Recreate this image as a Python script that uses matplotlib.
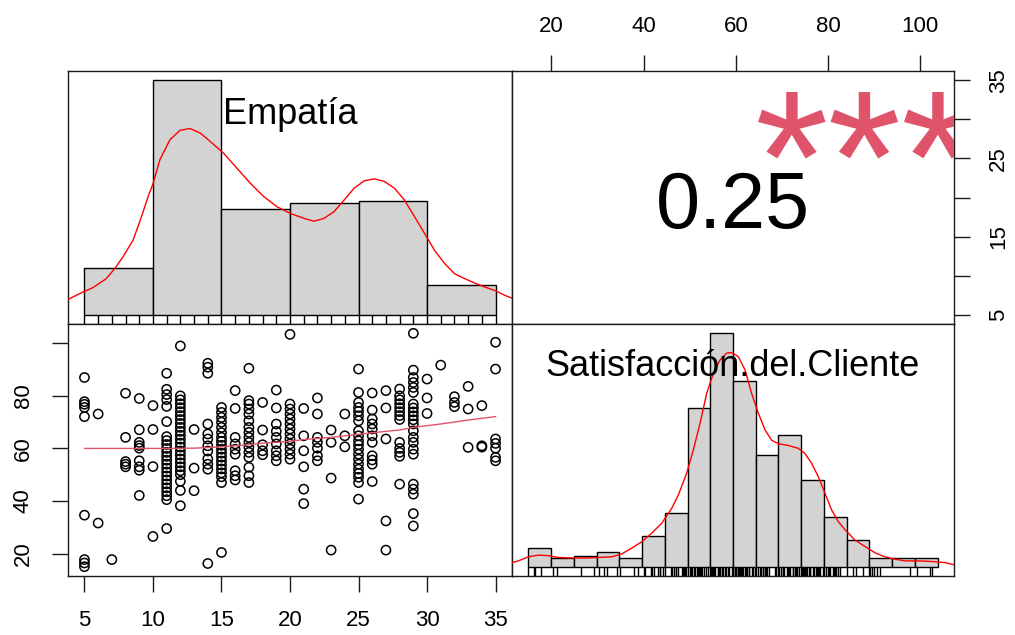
import matplotlib.pyplot as plt
import numpy as np

plt.rcParams['font.family'] = ['Liberation Sans', 'DejaVu Sans']

# Empatía score (x) and Satisfacción del Cliente readings at each score
emp_scores = list(range(5, 36))
sat_groups = [
    [87.0, 77.8, 76.8, 75.6, 72.1, 34.6, 17.7, 16.4, 15.0],                      # 5
    [73.1, 31.6],                                                                # 6
    [17.7],                                                                      # 7
    [81.0, 64.2, 55.0, 54.0, 53.0],                                              # 8
    [79.0, 67.1, 62.3, 61.1, 60.1, 55.3, 53.0, 51.7, 42.1],                      # 9
    [76.3, 67.2, 53.1, 26.5],                                                    # 10
    [88.6, 82.5, 80.5, 78.6, 76.0, 70.2, 64.5, 63.0, 61.5, 60.0, 58.5, 57.0,
     55.5, 54.0, 52.5, 51.0, 49.5, 48.0, 46.5, 45.0, 43.5, 42.0, 40.5, 29.5],    # 11
    [99.0, 80.0, 78.5, 77.0, 75.5, 74.0, 72.5, 71.0, 69.5, 68.0, 66.5, 65.0,
     63.5, 62.0, 60.5, 59.0, 57.5, 56.0, 54.5, 53.0, 51.5, 50.0, 47.5, 44.0,
     38.2],                                                                      # 12
    [67.2, 52.5, 43.9],                                                          # 13
    [92.4, 90.9, 88.6, 69.3, 65.5, 63.6, 61.0, 59.0, 56.0, 54.0, 52.1, 16.2],    # 14
    [75.6, 73.7, 71.8, 70.0, 68.0, 66.0, 64.2, 62.7, 61.2, 59.7, 58.2, 56.7,
     55.2, 53.7, 52.2, 50.7, 49.2, 47.0, 20.4],                                  # 15
    [82.0, 75.2, 64.2, 61.7, 59.7, 57.8, 51.5, 49.6, 48.0],                      # 16
    [90.5, 78.2, 76.9, 75.0, 73.1, 70.5, 68.0, 66.1, 64.2, 62.3, 60.4, 58.5,
     56.6, 52.8, 49.6, 47.0],                                                    # 17
    [77.5, 67.0, 61.4, 59.1, 57.6],                                              # 18
    [82.2, 75.4, 69.3, 66.5, 64.2, 61.7, 59.1, 57.2, 55.3],                      # 19
    [103.4, 76.9, 75.0, 73.1, 71.2, 69.3, 67.4, 65.5, 63.6, 61.7, 59.7, 57.8,
     55.9],                                                                      # 20
    [75.2, 64.8, 59.1, 53.0, 44.5, 39.0],                                        # 21
    [79.2, 73.1, 64.2, 62.3, 60.1, 57.2, 55.3],                                  # 22
    [67.0, 62.3, 48.7, 21.3],                                                    # 23
    [73.1, 64.8, 60.6],                                                          # 24
    [90.2, 81.3, 77.5, 75.6, 74.1, 72.4, 70.5, 66.7, 64.8, 62.9, 61.4, 59.7,
     57.8, 55.9, 54.0, 52.1, 50.5, 49.0, 47.0, 40.7],                            # 25
    [81.1, 74.6, 71.2, 69.3, 67.4, 64.8, 62.3, 57.2, 55.6, 54.0, 47.4],          # 26
    [82.0, 75.4, 63.6, 32.4, 21.3],                                              # 27
    [82.6, 80.0, 78.5, 77.0, 75.5, 74.0, 72.5, 71.0, 62.3, 60.0, 58.5, 57.0,
     46.4],                                                                      # 28
    [103.8, 89.8, 87.0, 85.1, 83.2, 81.3, 76.9, 75.4, 73.9, 72.4, 70.9, 69.3,
     66.7, 64.2, 62.3, 59.7, 57.8, 46.4, 44.5, 42.6, 35.2, 30.5],                # 29
    [86.4, 79.2, 73.3],                                                          # 30
    [91.7],                                                                      # 31
    [79.7, 77.5, 75.9],                                                          # 32
    [83.6, 75.0, 60.4],                                                          # 33
    [76.3, 61.0, 60.5],                                                          # 34
    [100.4, 90.2, 63.6, 61.9, 60.1, 56.6, 55.3],                                 # 35
]

# lowess smoother through the scatter
smooth_x = [5, 11, 13, 15, 17, 18, 19, 20, 21, 23, 25, 27, 28, 29, 31, 33, 35]
smooth_y = [60.0, 60.0, 60.1, 60.6, 61.4, 62.0, 62.3, 62.7, 63.4, 64.2, 65.4,
            66.5, 67.0, 68.0, 69.3, 70.8, 72.1]

# histogram bins (counts) for each variable
n_obs = 559
emp_breaks = [5, 10, 15, 20, 25, 30, 35]
emp_counts = [41, 204, 92, 97, 99, 26]
sat_breaks = [15, 20, 25, 30, 35, 40, 45, 50, 55, 60, 65, 70, 75, 80, 85,
              90, 95, 100, 105]
sat_counts = [9, 4, 5, 7, 4, 15, 26, 77, 113, 90, 54, 64, 42, 24, 13, 4, 4, 4]

# kernel density estimates
emp_dens_x = [3.75, 4.63, 5.61, 6.59, 7.20, 7.81, 8.55, 9.16, 9.65, 10.01,
              10.50, 11.24, 11.97, 12.70, 13.44, 14.17, 15.15, 16.13, 17.11,
              18.08, 19.06, 20.04, 21.02, 21.75, 22.48, 23.22, 23.95, 24.68,
              25.42, 26.15, 26.89, 27.62, 28.35, 29.09, 29.82, 30.55, 31.29,
              32.02, 32.76, 33.49, 34.22, 34.96, 35.69, 36.33]
emp_dens_y = [0.0046, 0.0065, 0.0084, 0.0112, 0.0143, 0.0180, 0.0232, 0.0305,
              0.0368, 0.0409, 0.0482, 0.0545, 0.0574, 0.0580, 0.0566, 0.0540,
              0.0503, 0.0456, 0.0409, 0.0368, 0.0336, 0.0315, 0.0300, 0.0291,
              0.0300, 0.0321, 0.0357, 0.0394, 0.0417, 0.0423, 0.0415, 0.0394,
              0.0357, 0.0305, 0.0253, 0.0200, 0.0159, 0.0127, 0.0112, 0.0098,
              0.0086, 0.0075, 0.0060, 0.0049]
sat_dens_x = [11.47, 12.79, 14.98, 17.18, 19.38, 21.58, 24.52, 27.45, 30.38,
              33.31, 35.51, 37.71, 39.91, 42.11, 44.31, 46.51, 47.97, 49.81,
              51.27, 52.74, 54.21, 55.67, 57.14, 58.60, 59.70, 61.17, 62.64,
              64.10, 65.57, 67.04, 68.50, 69.97, 72.17, 74.37, 75.83, 77.30,
              78.76, 80.23, 81.70, 83.16, 84.63, 86.83, 89.03, 91.23, 93.43,
              95.63, 97.83, 100.76, 103.69, 106.62, 108.82]
sat_dens_y = [0.0007, 0.0010, 0.0017, 0.0020, 0.0019, 0.0016, 0.0015, 0.0015,
              0.0016, 0.0017, 0.0022, 0.0032, 0.0043, 0.0058, 0.0075, 0.0101,
              0.0124, 0.0162, 0.0202, 0.0248, 0.0300, 0.0335, 0.0358, 0.0370,
              0.0371, 0.0364, 0.0341, 0.0300, 0.0266, 0.0237, 0.0219, 0.0213,
              0.0210, 0.0205, 0.0196, 0.0179, 0.0156, 0.0127, 0.0098, 0.0078,
              0.0064, 0.0046, 0.0035, 0.0024, 0.0017, 0.0013, 0.0010, 0.0010,
              0.0009, 0.0007, 0.0003]

corr_r = 0.25
signif = "***"

var_names = ["Empatía", "Satisfacción.del.Cliente"]

R_RED = "#DF536B"


def padded(lo, hi):
    d = (hi - lo) * 0.04
    return lo - d, hi + d


def style_frame(ax):
    for sp in ax.spines.values():
        sp.set_linewidth(1.0)
        sp.set_color("#1a1a1a")
    ax.tick_params(direction="out", length=11.5, width=1.0, pad=13,
                   labelsize=16, color="#1a1a1a")


emp = np.concatenate([[s] * len(g) for s, g in zip(emp_scores, sat_groups)])
sat = np.concatenate(sat_groups)
emp_lim = padded(emp.min(), emp.max())
sat_lim = padded(sat.min(), sat.max())

fig = plt.figure(figsize=(10.15, 6.35), dpi=100)

col_x = [68 / 1015, 512 / 1015]
col_w = [444 / 1015, 442 / 1015]
row_y = [1 - 324 / 635, 1 - 576 / 635]
row_h = [253 / 635, 252 / 635]

ax_he = fig.add_axes([col_x[0], row_y[0], col_w[0], row_h[0]])
ax_cor = fig.add_axes([col_x[1], row_y[0], col_w[1], row_h[0]])
ax_sc = fig.add_axes([col_x[0], row_y[1], col_w[0], row_h[1]])
ax_hs = fig.add_axes([col_x[1], row_y[1], col_w[1], row_h[1]])


def draw_hist(ax, breaks, counts, dens_x, dens_y, values, label):
    breaks = np.asarray(breaks, float)
    dens = np.asarray(counts) / (n_obs * np.diff(breaks))
    ax.bar(breaks[:-1], dens, width=np.diff(breaks), align="edge",
           color="#D3D3D3", edgecolor="black", linewidth=1.0, zorder=2)
    ax.plot(dens_x, dens_y, color="red", lw=1.0, zorder=3)
    ax.vlines(np.unique(values), 0, 0.035, transform=ax.get_xaxis_transform(),
              color="black", lw=1.0, zorder=3)
    ax.set_xlim(padded(breaks[0], breaks[-1]))
    ax.set_ylim(-0.04 * dens.max(), 1.04 * dens.max())
    ax.set_xticks([])
    ax.set_yticks([])
    style_frame(ax)
    ax.text(0.5, 0.83, label, transform=ax.transAxes, ha="center",
            va="center", fontsize=26, zorder=5)


draw_hist(ax_he, emp_breaks, emp_counts, emp_dens_x, emp_dens_y, emp,
          var_names[0])
draw_hist(ax_hs, sat_breaks, sat_counts, sat_dens_x, sat_dens_y, sat,
          var_names[1])

# scatter of Satisfacción against Empatía
ax_sc.scatter(emp, sat, s=44, facecolors="none", edgecolors="black",
              linewidths=1.1, zorder=2)
ax_sc.plot(smooth_x, smooth_y, color=R_RED, lw=1.0, zorder=3)
ax_sc.set_xlim(emp_lim)
ax_sc.set_ylim(sat_lim)
style_frame(ax_sc)
ax_sc.set_xticks([5, 10, 15, 20, 25, 30, 35])
ax_sc.set_yticks([20, 40, 60, 80, 100], ["20", "40", "60", "80", ""],
                 rotation=90, va="center")

# correlation panel
ax_cor.set_xlim(sat_lim)
ax_cor.set_ylim(emp_lim)
style_frame(ax_cor)
ax_cor.xaxis.tick_top()
ax_cor.yaxis.tick_right()
ax_cor.set_xticks([20, 40, 60, 80, 100])
ax_cor.set_yticks([5, 10, 15, 20, 25, 30, 35],
                  ["5", "", "15", "", "25", "", "35"], rotation=90,
                  va="center")
ax_cor.text(0.5, 0.38, f"{corr_r:.2f}", transform=ax_cor.transAxes,
            ha="center", va="baseline", fontsize=57)
ax_cor.text(0.8, 0.405, signif, transform=ax_cor.transAxes, ha="center",
            va="baseline", fontsize=136, color=R_RED, clip_on=True)

fig.savefig("out.png", dpi=100)
